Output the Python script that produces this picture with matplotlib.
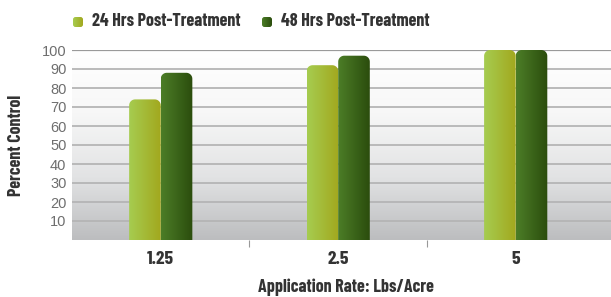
import matplotlib
matplotlib.use("Agg")
import matplotlib.pyplot as plt
import numpy as np
from matplotlib.colors import LinearSegmentedColormap
from matplotlib.patches import FancyBboxPatch, Polygon

# chart data
rates = ["1.25", "2.5", "5"]
hrs24 = [74, 92, 100]
hrs48 = [88, 97, 100]
series_names = ["24 Hrs Post-Treatment", "48 Hrs Post-Treatment"]
yticks = [10, 20, 30, 40, 50, 60, 70, 80, 90, 100]

LIGHT = LinearSegmentedColormap.from_list("light", ["#a6cc50", "#a2a81e"])
DARK = LinearSegmentedColormap.from_list("dark", ["#4c7d27", "#2b4d0d"])
BG = LinearSegmentedColormap.from_list("bg", ["#bcbdbf", "#e2e3e4", "#f7f7f7", "#ffffff"])

NARROW = ["Barlow Condensed", "Liberation Sans", "DejaVu Sans"]
TEXT_COL = "#333333"

fig = plt.figure(figsize=(6.11, 2.97), dpi=100)
ax = fig.add_axes([72 / 611, 57 / 297, 539 / 611, 190 / 297])
ax.set_xlim(-0.5, 2.537)
ax.set_ylim(0, 100)

# background gradient
grad = np.linspace(0, 1, 256).reshape(-1, 1)
ax.imshow(grad, extent=[-0.5, 2.537, 0, 100], origin="lower", aspect="auto",
          cmap=BG, zorder=0)

for v in yticks:
    ax.axhline(v, color="#9a9a9a" if v == 100 else "#b5b5b5",
               lw=1.6 if v == 100 else 1.3, zorder=1)

# pixels per data unit, used to make the top corners look round
px_x = 539 / (2.537 + 0.5)
px_y = 190 / 100
bw = 0.178
rx = 6 / px_x
ry = 6 / px_y
hgrad = np.linspace(0, 1, 64).reshape(1, -1)


def rounded_top(x0, val):
    t = np.linspace(0, np.pi / 2, 12)
    left = np.column_stack([x0 + rx - rx * np.cos(t), val - ry + ry * np.sin(t)])
    right = np.column_stack([x0 + bw - rx + rx * np.sin(t), val - ry + ry * np.cos(t)])
    pts = np.vstack([[[x0, -5]], left, right, [[x0 + bw, -5]]])
    return Polygon(pts, closed=True, fc="none", ec="none")


def gradient_bar(x0, val, cmap):
    patch = rounded_top(x0, val)
    ax.add_patch(patch)
    im = ax.imshow(hgrad, extent=[x0, x0 + bw, -5, val], aspect="auto",
                   cmap=cmap, zorder=3)
    im.set_clip_path(patch)


for i in range(len(rates)):
    gradient_bar(i - bw, hrs24[i], LIGHT)
    gradient_bar(i, hrs48[i], DARK)

ax.set_xlim(-0.5, 2.537)
ax.set_ylim(0, 100)

for s in ax.spines.values():
    s.set_visible(False)

ax.set_yticks(yticks)
ax.set_yticklabels([str(v) for v in yticks], color="#6e6e6e", fontsize=10.5,
                   family="Liberation Sans")
ax.tick_params(axis="y", length=0, pad=4)

ax.set_xticks(range(len(rates)))
ax.set_xticklabels(rates, fontsize=14, fontweight="bold", color=TEXT_COL,
                   family=NARROW)
ax.set_xticks([0.5, 1.5], minor=True)
ax.tick_params(axis="x", which="major", length=0, pad=8)
ax.tick_params(axis="x", which="minor", length=5, color="#999999", width=0.8)

fig.text(17 / 611, 1 - 145 / 297, "Percent Control", rotation=90, fontsize=13,
         fontweight="bold", color=TEXT_COL, family=NARROW,
         ha="center", va="center")
fig.text(346 / 611, 1 - 287 / 297, "Application Rate: Lbs/Acre", fontsize=13,
         fontweight="bold", color=TEXT_COL, family=NARROW,
         ha="center", va="center")

# legend
for k, (name, cmap) in enumerate(zip(series_names, [LIGHT, DARK])):
    x0 = [73, 262][k]
    lax = fig.add_axes([x0 / 611, 1 - 27 / 297, 10 / 611, 10 / 297])
    lax.set_xlim(0, 1)
    lax.set_ylim(0, 1)
    lax.axis("off")
    p = FancyBboxPatch((0, 0), 1, 1, boxstyle="round,pad=0,rounding_size=0.25",
                       fc="none", ec="none")
    lax.add_patch(p)
    im = lax.imshow(hgrad, extent=[0, 1, 0, 1], aspect="auto", cmap=cmap)
    im.set_clip_path(p)
    fig.text((x0 + 19) / 611, 1 - 22 / 297, name, fontsize=13,
             fontweight="bold", color=TEXT_COL, family=NARROW, va="center")

fig.savefig("out.png", dpi=100)
